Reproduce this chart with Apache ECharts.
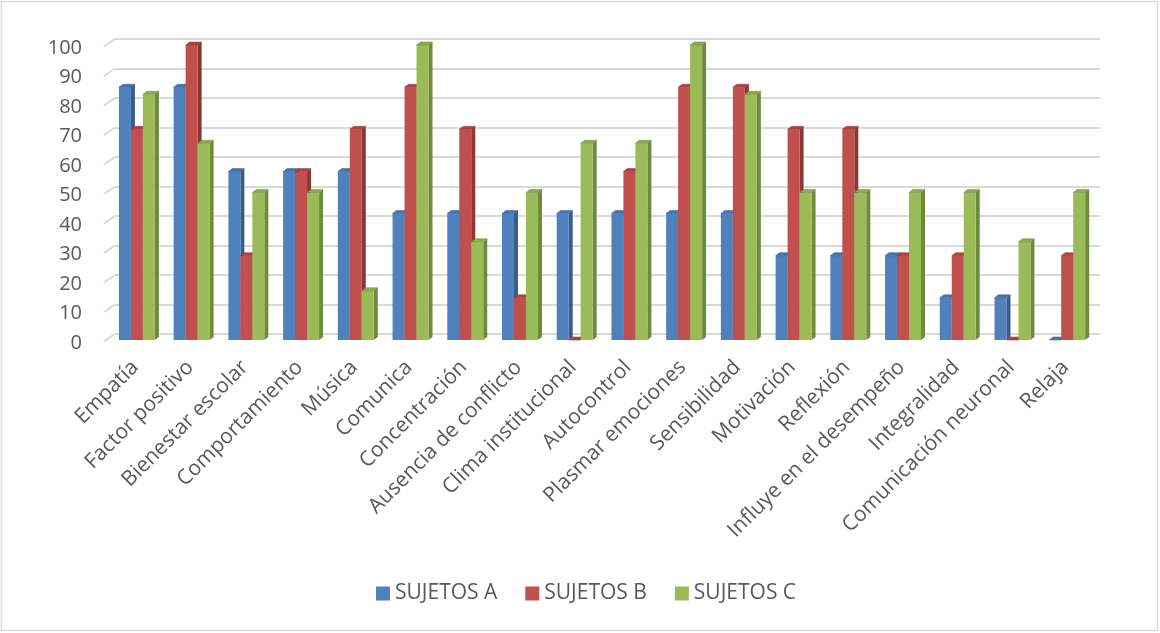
<!DOCTYPE html>
<html>
<head>
<meta charset="utf-8">
<script src="https://cdn.jsdelivr.net/npm/echarts@6/dist/echarts.min.js"></script>
<style>
  html, body { margin: 0; padding: 0; background: #fff; }
  #chart { width: 1160px; height: 633px; }
</style>
</head>
<body>
<div id="chart"></div>
<script>
// Categories and the three groups of subjects (percentages)
const categories = [
  'Empatía', 'Factor positivo', 'Bienestar escolar', 'Comportamiento', 'Música',
  'Comunica', 'Concentración', 'Ausencia de conflicto', 'Clima institucional',
  'Autocontrol', 'Plasmar emociones', 'Sensibilidad', 'Motivación', 'Reflexión',
  'Influye en el desempeño', 'Integralidad', 'Comunicación neuronal', 'Relaja'
];
const seriesNames = ['SUJETOS A', 'SUJETOS B', 'SUJETOS C'];
const sujetosA = [85.7, 85.7, 57.1, 57.1, 57.1, 42.9, 42.9, 42.9, 42.9, 42.9, 42.9, 42.9, 28.6, 28.6, 28.6, 14.3, 14.3, 0];
const sujetosB = [71.4, 100, 28.6, 57.1, 71.4, 85.7, 71.4, 14.3, 0, 57.1, 85.7, 85.7, 71.4, 71.4, 28.6, 28.6, 0, 28.6];
const sujetosC = [83.3, 66.7, 50, 50, 16.7, 100, 33.3, 50, 66.7, 66.7, 100, 83.3, 50, 50, 50, 50, 33.3, 50];
const yTicks = [0, 10, 20, 30, 40, 50, 60, 70, 80, 90, 100];

// front / top / side colours of each column
const palette = [
  { front: '#4F81BD', top: '#4574AD', side: '#385D8A' },
  { front: '#C0504D', top: '#AE4542', side: '#8A3735' },
  { front: '#9BBB59', top: '#8CAA4E', side: '#6E8A3A' }
];

const FONT = '"Open Sans", sans-serif';
const TEXT = '#595959';
const GRID_LINE = '#d9d9d9';

// pseudo-3D column: front face lowered a few px, top and side faces receding up-right
function columnRenderer(k) {
  return function (params, api) {
    const idx = api.value(0);
    const val = api.value(1);
    const base = api.coord([idx, 0]);
    const top = api.coord([idx, val]);
    const band = api.size([1, 0])[0];
    const w = band * 0.219;
    const dx = 4, dy = -3, drop = 6;
    const x0 = base[0] - band * 0.428 + k * w;
    const x1 = x0 + w;
    const yt = top[1] + drop;
    const yb = base[1] + drop;
    const c = palette[k];
    return {
      type: 'group',
      children: [
        { type: 'polygon', shape: { points: [[x1, yt], [x1 + dx, yt + dy], [x1 + dx, yb + dy], [x1, yb]] },
          style: { fill: c.side } },
        { type: 'rect', shape: { x: x0, y: yt, width: w, height: yb - yt },
          style: { fill: c.front } },
        { type: 'polygon', shape: { points: [[x0, yt], [x0 + dx, yt + dy], [x1 + dx, yt + dy], [x1, yt]] },
          style: { fill: c.top, stroke: c.side, lineWidth: 0.5 } }
      ]
    };
  };
}

// receding side-wall segment for each gridline
function wallRenderer(params, api) {
  const p = api.coord([0, api.value(0)]);
  const xb = params.coordSys.x;
  return {
    type: 'line',
    shape: { x1: xb - 11, y1: p[1] + 7.5, x2: xb, y2: p[1] },
    style: { stroke: GRID_LINE, lineWidth: 2 }
  };
}

const valueSets = [sujetosA, sujetosB, sujetosC];

const option = {
  backgroundColor: '#ffffff',
  animation: false,
  graphic: [{
    type: 'rect',
    shape: { x: 1.5, y: 1.5, width: 1156, height: 629 },
    style: { fill: 'none', stroke: '#d9d9d9', lineWidth: 1.5 },
    silent: true
  }],
  legend: {
    data: seriesNames,
    top: 578,
    left: 371,
    icon: 'rect',
    itemWidth: 14,
    itemHeight: 14,
    itemGap: 28,
    textStyle: { fontFamily: FONT, fontSize: 21, color: TEXT }
  },
  grid: [
    // back wall
    { left: 115, right: 60, top: 39, bottom: 633 - 334 },
    // front plane (value and category labels)
    { left: 108, right: 67, top: 48, bottom: 633 - 343 }
  ],
  xAxis: [
    {
      type: 'category', gridIndex: 0, data: categories,
      axisLine: { show: false }, axisTick: { show: false }, axisLabel: { show: false }
    },
    {
      type: 'category', gridIndex: 1, data: categories,
      axisLine: { show: false }, axisTick: { show: false },
      axisLabel: {
        interval: 0, rotate: 45, margin: 21,
        fontFamily: FONT, fontSize: 21, color: TEXT
      }
    }
  ],
  yAxis: [
    {
      type: 'value', gridIndex: 0, min: 0, max: 100, interval: 10,
      axisLabel: { show: false }, axisLine: { show: false }, axisTick: { show: false },
      splitLine: { lineStyle: { color: GRID_LINE, width: 2 } }
    },
    {
      type: 'value', gridIndex: 1, min: 0, max: 100, interval: 10,
      axisLine: { show: false }, axisTick: { show: false }, splitLine: { show: false },
      axisLabel: { margin: 26, fontFamily: FONT, fontSize: 20, color: TEXT }
    }
  ],
  series: [
    {
      type: 'custom', name: 'wall', xAxisIndex: 0, yAxisIndex: 0,
      data: yTicks.map(v => [v]), renderItem: wallRenderer, silent: true, z: 1
    }
  ].concat(seriesNames.map((name, k) => ({
    type: 'custom',
    name: name,
    xAxisIndex: 0, yAxisIndex: 0,
    itemStyle: { color: palette[k].front },
    data: valueSets[k].map((v, i) => [i, v]),
    renderItem: columnRenderer(k),
    z: 2 + k
  })))
};

const chart = echarts.init(document.getElementById('chart'), null, { renderer: 'canvas' });
chart.setOption(option);
</script>
</body>
</html>
